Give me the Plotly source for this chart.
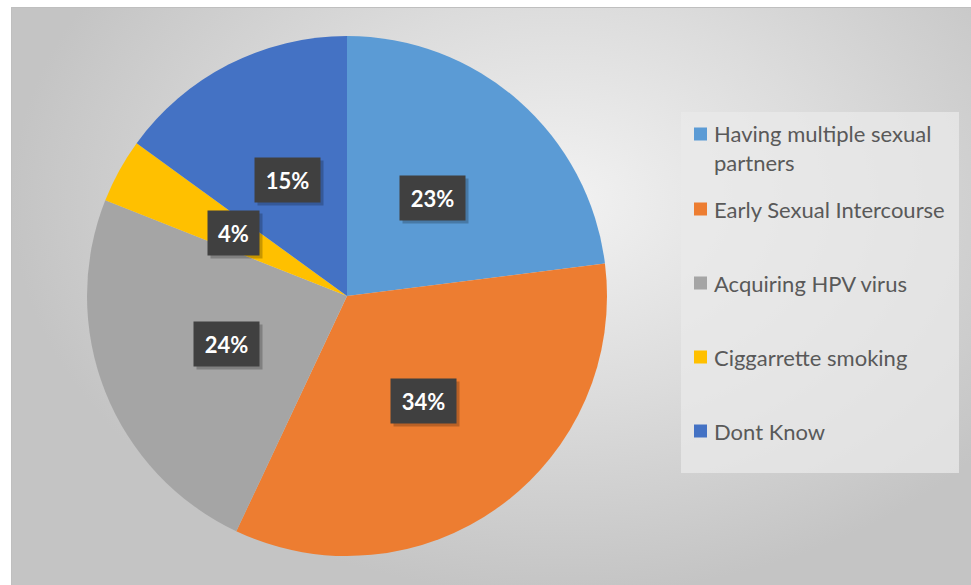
import math
import textwrap
import plotly.graph_objects as go

# ---- data ----
categories = ["Having multiple sexual partners", "Early Sexual Intercourse",
              "Acquiring HPV virus", "Ciggarrette smoking", "Dont Know"]
values = [23, 34, 24, 4, 15]
colors = ["#5B9BD5", "#ED7D31", "#A5A5A5", "#FFC000", "#4472C4"]

W, H = 971, 585
cx, cy, R = 347, 296, 260  # pie centre / radius in pixels (top-left origin)

fig = go.Figure()

# background radial gradient (chart area)
fig.add_trace(go.Scatter(
    x=[11, 1109, 1109, 11, 11], y=[-10, -10, 780, 780, -10],
    mode="lines", line=dict(width=0), fill="toself",
    fillgradient=dict(type="radial",
                      colorscale=[[0, "#f2f2f2"], [0.5, "#dcdcdc"], [1, "#c4c4c4"]]),
    hoverinfo="skip", showlegend=False))

fig.add_trace(go.Pie(
    labels=categories, values=values, sort=False, direction="clockwise",
    marker=dict(colors=colors, line=dict(width=0)),
    textinfo="none", hoverinfo="label+percent", showlegend=False,
    domain=dict(x=[(cx - R) / W, (cx + R) / W],
                y=[(H - cy - R) / H, (H - cy + R) / H])))

shapes = []
annotations = []

# white margin outside the chart frame + frame line
shapes.append(dict(type="rect", xref="x", yref="y", x0=-5, x1=W + 5, y0=H - 7, y1=H + 5,
                   fillcolor="white", line=dict(width=0), layer="above"))
shapes.append(dict(type="rect", xref="x", yref="y", x0=-5, x1=11, y0=-5, y1=H + 5,
                   fillcolor="white", line=dict(width=0), layer="above"))
shapes.append(dict(type="rect", xref="x", yref="y", x0=11.5, x1=W + 20, y0=-20, y1=H - 7.5,
                   fillcolor="rgba(0,0,0,0)", line=dict(color="#bfbfbf", width=1), layer="above"))

# data labels at half radius along each slice's mid angle
total = sum(values)
cum = 0
for v in values:
    mid = (cum + v / 2) / total * 2 * math.pi
    cum += v
    lx = cx + 0.5 * R * math.sin(mid)
    ly = (H - cy) + 0.5 * R * math.cos(mid)
    txt = f"{round(v / total * 100)}%"
    annotations.append(dict(x=lx, y=ly, xref="x", yref="y", text=" ", showarrow=False,
                            xshift=3, yshift=-3, height=42, width=14 * len(txt) + 21,
                            bgcolor="rgba(0,0,0,0.22)"))
    annotations.append(dict(x=lx, y=ly, xref="x", yref="y", text=f"<b>{txt}</b>", showarrow=False,
                            height=42, width=14 * len(txt) + 21, bgcolor="#404040",
                            font=dict(family="Lato", size=22, color="white")))

# legend box
shapes.append(dict(type="rect", xref="x", yref="y", x0=681, x1=959, y0=H - 473, y1=H - 112,
                   fillcolor="rgba(234,234,234,0.75)", line=dict(width=0), layer="above"))
leg_y = [148, 209, 283, 357, 431]
for name, col, yy in zip(categories, colors, leg_y):
    lines = textwrap.wrap(name, 24)
    ymark = yy if len(lines) == 1 else yy - 14
    shapes.append(dict(type="rect", xref="x", yref="y", x0=694, x1=707,
                       y0=H - ymark - 6.5, y1=H - ymark + 6.5,
                       fillcolor=col, line=dict(width=0), layer="above"))
    annotations.append(dict(x=712, y=H - yy, xref="x", yref="y", xanchor="left", yanchor="middle",
                            text="<br>".join(lines), align="left", showarrow=False,
                            font=dict(family="Lato", size=22, color="#595959")))

fig.update_layout(
    width=W, height=H, margin=dict(l=0, r=0, t=0, b=0),
    paper_bgcolor="white", plot_bgcolor="white",
    xaxis=dict(range=[0, W], visible=False, domain=[0, 1], fixedrange=True),
    yaxis=dict(range=[0, H], visible=False, domain=[0, 1], fixedrange=True),
    shapes=shapes, annotations=annotations, showlegend=False,
)

fig.write_html("out.html")
